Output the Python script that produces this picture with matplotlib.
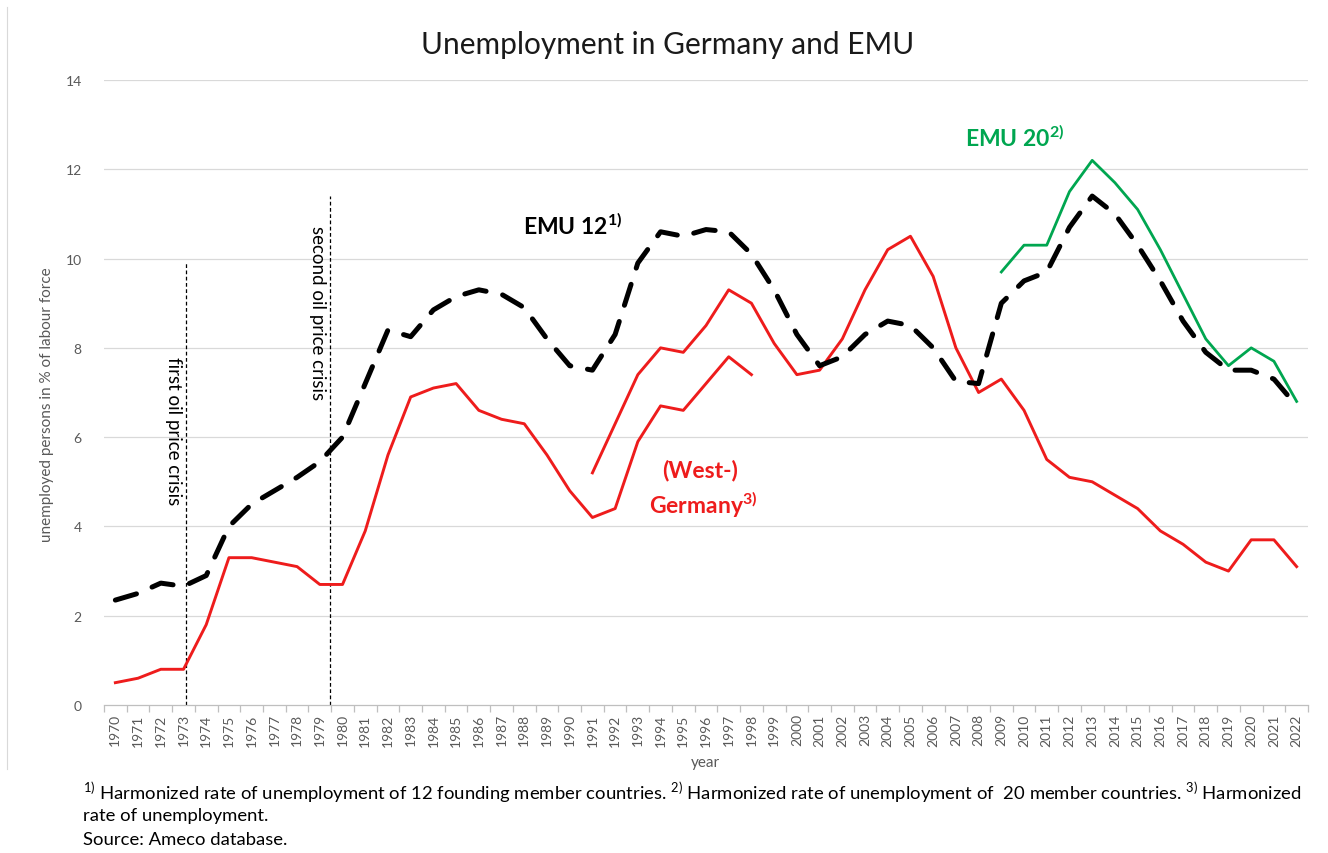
import matplotlib
matplotlib.use("Agg")
import matplotlib.pyplot as plt
from matplotlib.lines import Line2D

plt.rcParams['font.family'] = ['Lato', 'DejaVu Sans']
plt.rcParams['mathtext.fontset'] = 'custom'
plt.rcParams['mathtext.rm'] = 'Lato'
plt.rcParams['mathtext.bf'] = 'Lato:bold'

# Daten
years = list(range(1970, 2023))
emu12 = [2.35, 2.5, 2.73, 2.66, 2.9, 4.0, 4.5, 4.8, 5.1, 5.45,
         6.0, 7.2, 8.4, 8.25, 8.85, 9.15, 9.3, 9.2, 8.9, 8.2,
         7.6, 7.5, 8.3, 9.9, 10.6, 10.5, 10.65, 10.6, 10.1, 9.3,
         8.3, 7.6, 7.8, 8.3, 8.6, 8.5, 8.0, 7.25, 7.2, 9.0,
         9.5, 9.7, 10.7, 11.4, 11.0, 10.3, 9.5, 8.6, 7.9, 7.5,
         7.5, 7.3, 6.7]
west_years = list(range(1970, 1999))
west_germany = [0.5, 0.6, 0.8, 0.8, 1.8, 3.3, 3.3, 3.2, 3.1, 2.7,
                2.7, 3.9, 5.6, 6.9, 7.1, 7.2, 6.6, 6.4, 6.3, 5.6,
                4.8, 4.2, 4.4, 5.9, 6.7, 6.6, 7.2, 7.8, 7.4]
ger_years = list(range(1991, 2023))
germany = [5.2, 6.3, 7.4, 8.0, 7.9, 8.5, 9.3, 9.0, 8.1, 7.4,
           7.5, 8.2, 9.3, 10.2, 10.5, 9.6, 8.0, 7.0, 7.3, 6.6,
           5.5, 5.1, 5.0, 4.7, 4.4, 3.9, 3.6, 3.2, 3.0, 3.7,
           3.7, 3.1]
emu20_years = list(range(2009, 2023))
emu20 = [9.7, 10.3, 10.3, 11.5, 12.2, 11.7, 11.1, 10.2, 9.2, 8.2,
         7.6, 8.0, 7.7, 6.8]

crisis_years = [1973.1, 1979.45]
crisis_tops = [9.9, 11.4]
crisis_labels = ['first oil price crisis', 'second oil price crisis']

red = '#ee1c1c'
green = '#00a650'
grey = '#595959'

fig = plt.figure(figsize=(13.28, 8.54), dpi=100)
ax = fig.add_axes([104/1328, 148/854, 1204/1328, 625/854])

# Gitter
for v in range(2, 15, 2):
    ax.axhline(v, color='#d9d9d9', lw=0.9, zorder=0)

ax.plot(west_years, west_germany, color=red, lw=2.1, zorder=3)
ax.plot(ger_years, germany, color=red, lw=2.1, zorder=3)
ax.plot(emu20_years, emu20, color=green, lw=2.0, zorder=3)
ax.plot(years, emu12, color='black', lw=3.6, dashes=(4.4, 3.4),
        dash_capstyle='round', zorder=4)

for cx, top in zip(crisis_years, crisis_tops):
    ax.plot([cx, cx], [0, top], color='black', lw=0.9, dashes=(3, 2), zorder=2)

ax.text(1972.55, 6.15, crisis_labels[0], rotation=270, ha='center', va='center', fontsize=13.5)
ax.text(1978.9, 8.8, crisis_labels[1], rotation=270, ha='center', va='center', fontsize=13.5)

ax.text(1987.95, 10.76, r'EMU 12$^{\mathbf{1)}}$', fontsize=16.5, fontweight='bold',
        ha='left', va='center', color='black')
ax.text(2007.4, 12.73, r'EMU 20$^{\mathbf{2)}}$', fontsize=16.5, fontweight='bold',
        ha='left', va='center', color=green)
ax.text(1995.75, 5.28, '(West-)', fontsize=16.5, fontweight='bold',
        ha='center', va='center', color=red)
ax.text(1995.9, 4.5, r'Germany$^{\mathbf{3)}}$', fontsize=16.5, fontweight='bold',
        ha='center', va='center', color=red)

ax.set_xlim(1969.5, 2022.5)
ax.set_ylim(0, 14)
ax.set_xticks(years)
ax.set_xticklabels([str(y) for y in years], rotation=90, fontsize=10, color=grey)
ax.set_xticks([y + 0.5 for y in [years[0] - 1] + years], minor=True)
ax.tick_params(axis='x', which='major', length=0, pad=6)
ax.tick_params(axis='x', which='minor', length=5, color='#bfbfbf', width=0.9)
ax.set_yticks(range(0, 15, 2))
ax.tick_params(axis='y', length=0, labelsize=10, labelcolor=grey, pad=16)
for s in ['top', 'right', 'left']:
    ax.spines[s].set_visible(False)
ax.spines['bottom'].set_color('#bfbfbf')
ax.spines['bottom'].set_linewidth(0.9)

fig.text(47/1328, 1 - 405/854, 'unemployed persons in % of labour force', rotation=90,
         ha='center', va='center', fontsize=11, color=grey)
fig.text(705/1328, 1 - 763/854, 'year', ha='center', va='center', fontsize=11, color=grey)
fig.text(668/1328, 1 - 45/854, 'Unemployment in Germany and EMU', ha='center', va='center',
         fontsize=21.5, color='#1a1a1a')

fig.text(83/1328, 1 - 793/854,
         r'$^{1)}$ Harmonized rate of unemployment of 12 founding member countries. '
         r'$^{2)}$ Harmonized rate of unemployment of  20 member countries. $^{3)}$ Harmonized',
         ha='left', va='center', fontsize=13.3)
fig.text(83/1328, 1 - 816/854, 'rate of unemployment.', ha='left', va='center', fontsize=13.3)
fig.text(83/1328, 1 - 840/854, 'Source: Ameco database.', ha='left', va='center', fontsize=13.3)

fig.add_artist(Line2D([7/1328, 7/1328], [1 - 8/854, 1 - 770/854], color='#d9d9d9', lw=0.8))

fig.savefig('out.png', dpi=100)
